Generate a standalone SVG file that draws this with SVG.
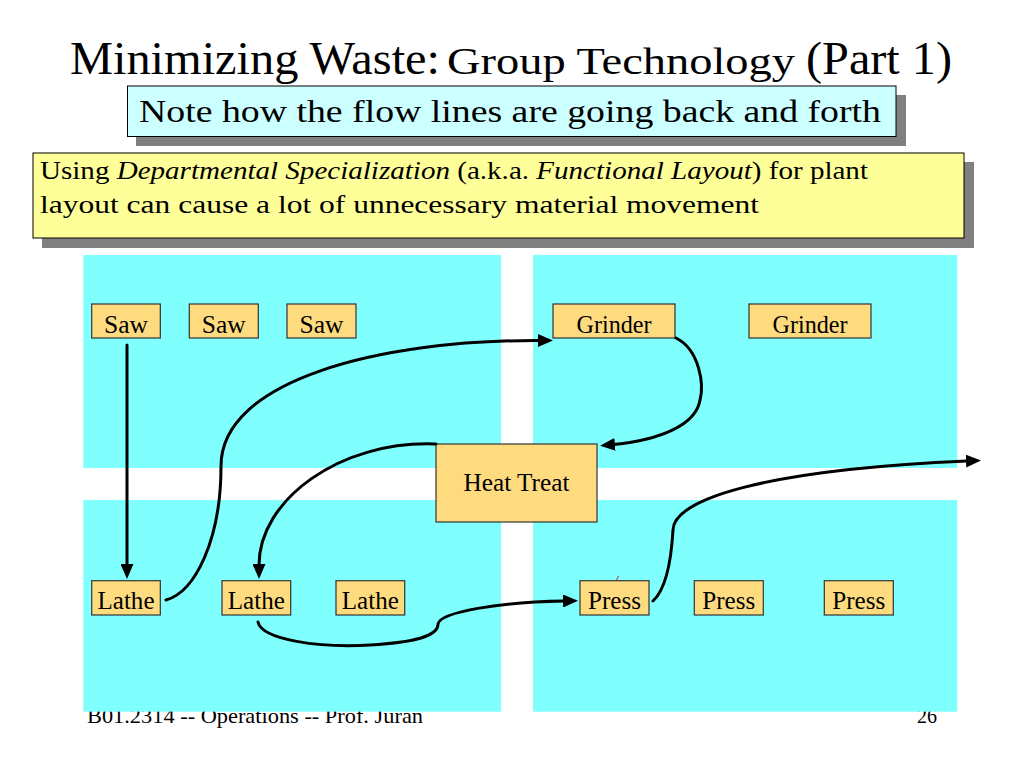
<svg xmlns="http://www.w3.org/2000/svg" width="1024" height="768" viewBox="0 0 1024 768">
<defs>
<style>
.t{font-family:"Liberation Serif","Times New Roman",serif;fill:#000}
.dept{fill:#80ffff}
.m{fill:#ffdb80;stroke:#333;stroke-width:1.2}
.lbl{font-family:"Liberation Serif","Times New Roman",serif;font-size:25px;fill:#000;text-anchor:middle}
.c{fill:none;stroke:#000;stroke-width:3;stroke-linecap:round}
.a{marker-end:url(#ah)}
.sh{fill:#808080}
</style>
<marker id="ah" markerUnits="userSpaceOnUse" markerWidth="15" markerHeight="13" viewBox="0 0 15 13" refX="1" refY="6.5" orient="auto">
<path d="M0,0 L15,6.5 L0,13 z" fill="#000"/>
</marker>
</defs>
<rect width="1024" height="768" fill="#fff"/>

<g id="title">
<text class="t" x="70" y="74" font-size="47" textLength="370" lengthAdjust="spacingAndGlyphs">Minimizing Waste:</text>
<text class="t" x="447" y="74" font-size="37" textLength="348" lengthAdjust="spacingAndGlyphs">Group Technology</text>
<text class="t" x="806" y="74" font-size="47" textLength="146" lengthAdjust="spacingAndGlyphs">(Part 1)</text>
</g>

<g id="note">
<rect class="sh" x="136" y="95" width="770" height="51"/>
<rect x="127.5" y="86" width="768.5" height="50.5" fill="#ccffff" stroke="#000" stroke-width="1"/>
<text class="t" x="139" y="122" font-size="32" textLength="742" lengthAdjust="spacingAndGlyphs">Note how the flow lines are going back and forth</text>
</g>

<g id="explanation">
<rect class="sh" x="42" y="162" width="932" height="86"/>
<rect x="33" y="153" width="931" height="85" fill="#ffff99" stroke="#000" stroke-width="1"/>
<text class="t" x="40" y="179" font-size="26" textLength="828" lengthAdjust="spacingAndGlyphs">Using <tspan font-style="italic">Departmental Specialization</tspan> (a.k.a. <tspan font-style="italic">Functional Layout</tspan>) for plant</text>
<text class="t" x="40" y="213" font-size="26" textLength="719" lengthAdjust="spacingAndGlyphs">layout can cause a lot of unnecessary material movement</text>
</g>

<g id="footer">
<text class="t" x="87" y="723" font-size="21" fill="#222" textLength="336" lengthAdjust="spacingAndGlyphs">B01.2314 -- Operations -- Prof. Juran</text>
<text class="t" x="917" y="723" font-size="21" fill="#222" textLength="20" lengthAdjust="spacingAndGlyphs">26</text>
</g>

<g id="departments">
<rect class="dept" x="83.3" y="255" width="417.7" height="213"/>
<rect class="dept" x="533" y="255" width="424.3" height="213"/>
<rect class="dept" x="83.3" y="500" width="417.7" height="211.7"/>
<rect class="dept" x="533" y="500" width="424.3" height="211.7"/>
</g>

<g id="saw1"><rect class="m" x="91.7" y="304" width="68.6" height="34"/><text class="lbl" x="126" y="333" textLength="44" lengthAdjust="spacingAndGlyphs">Saw</text></g>
<g id="saw2"><rect class="m" x="189.3" y="304" width="69" height="34"/><text class="lbl" x="223.8" y="333" textLength="44" lengthAdjust="spacingAndGlyphs">Saw</text></g>
<g id="saw3"><rect class="m" x="287" y="304" width="69" height="34"/><text class="lbl" x="321.5" y="333" textLength="44" lengthAdjust="spacingAndGlyphs">Saw</text></g>

<g id="grinder1"><rect class="m" x="553" y="304" width="122" height="34"/><text class="lbl" x="614" y="333" textLength="75" lengthAdjust="spacingAndGlyphs">Grinder</text></g>
<g id="grinder2"><rect class="m" x="749" y="304" width="122" height="34"/><text class="lbl" x="810" y="333" textLength="75" lengthAdjust="spacingAndGlyphs">Grinder</text></g>

<g id="heattreat"><rect class="m" x="436" y="444" width="161" height="78"/><text class="lbl" x="516.5" y="491" textLength="106" lengthAdjust="spacingAndGlyphs">Heat Treat</text></g>

<g id="lathe1"><rect class="m" x="91.7" y="580.7" width="68.6" height="34.3"/><text class="lbl" x="126" y="609" textLength="57" lengthAdjust="spacingAndGlyphs">Lathe</text></g>
<g id="lathe2"><rect class="m" x="222" y="580.7" width="68.7" height="34.3"/><text class="lbl" x="256.3" y="609" textLength="57" lengthAdjust="spacingAndGlyphs">Lathe</text></g>
<g id="lathe3"><rect class="m" x="336" y="580.7" width="68.7" height="34.3"/><text class="lbl" x="370.3" y="609" textLength="57" lengthAdjust="spacingAndGlyphs">Lathe</text></g>

<g id="press1"><rect class="m" x="580" y="580.7" width="69" height="34.3"/><text class="lbl" x="614.5" y="609" textLength="53" lengthAdjust="spacingAndGlyphs">Press</text></g>
<g id="press2"><rect class="m" x="694.3" y="580.7" width="69" height="34.3"/><text class="lbl" x="728.8" y="609" textLength="53" lengthAdjust="spacingAndGlyphs">Press</text></g>
<g id="press3"><rect class="m" x="824.3" y="580.7" width="69" height="34.3"/><text class="lbl" x="858.8" y="609" textLength="53" lengthAdjust="spacingAndGlyphs">Press</text></g>

<path d="M616,581 L618.5,576" stroke="#c03030" stroke-width="1" fill="none"/>

<g id="connectors">
<path class="c a" d="M127,345 L127,565"/>
<path class="c a" d="M166,600 C195,592 221,540 221,466 C221,380 380,340 539,340.5"/>
<path class="c a" d="M676,338 C700,350 704,385 700,400 C696,425 660,440 614,444.5"/>
<path class="c a" d="M436,444 C340,440 259,500 259,565"/>
<path class="c a" d="M258,622 C262,640 320,648 370,645 C420,642 438,635 438,624 C440,612 500,602 564,601"/>
<path class="c a" d="M653,601 C665,590 671,565 673,530 C674,500 760,470 967,461"/>
</g>
</svg>
